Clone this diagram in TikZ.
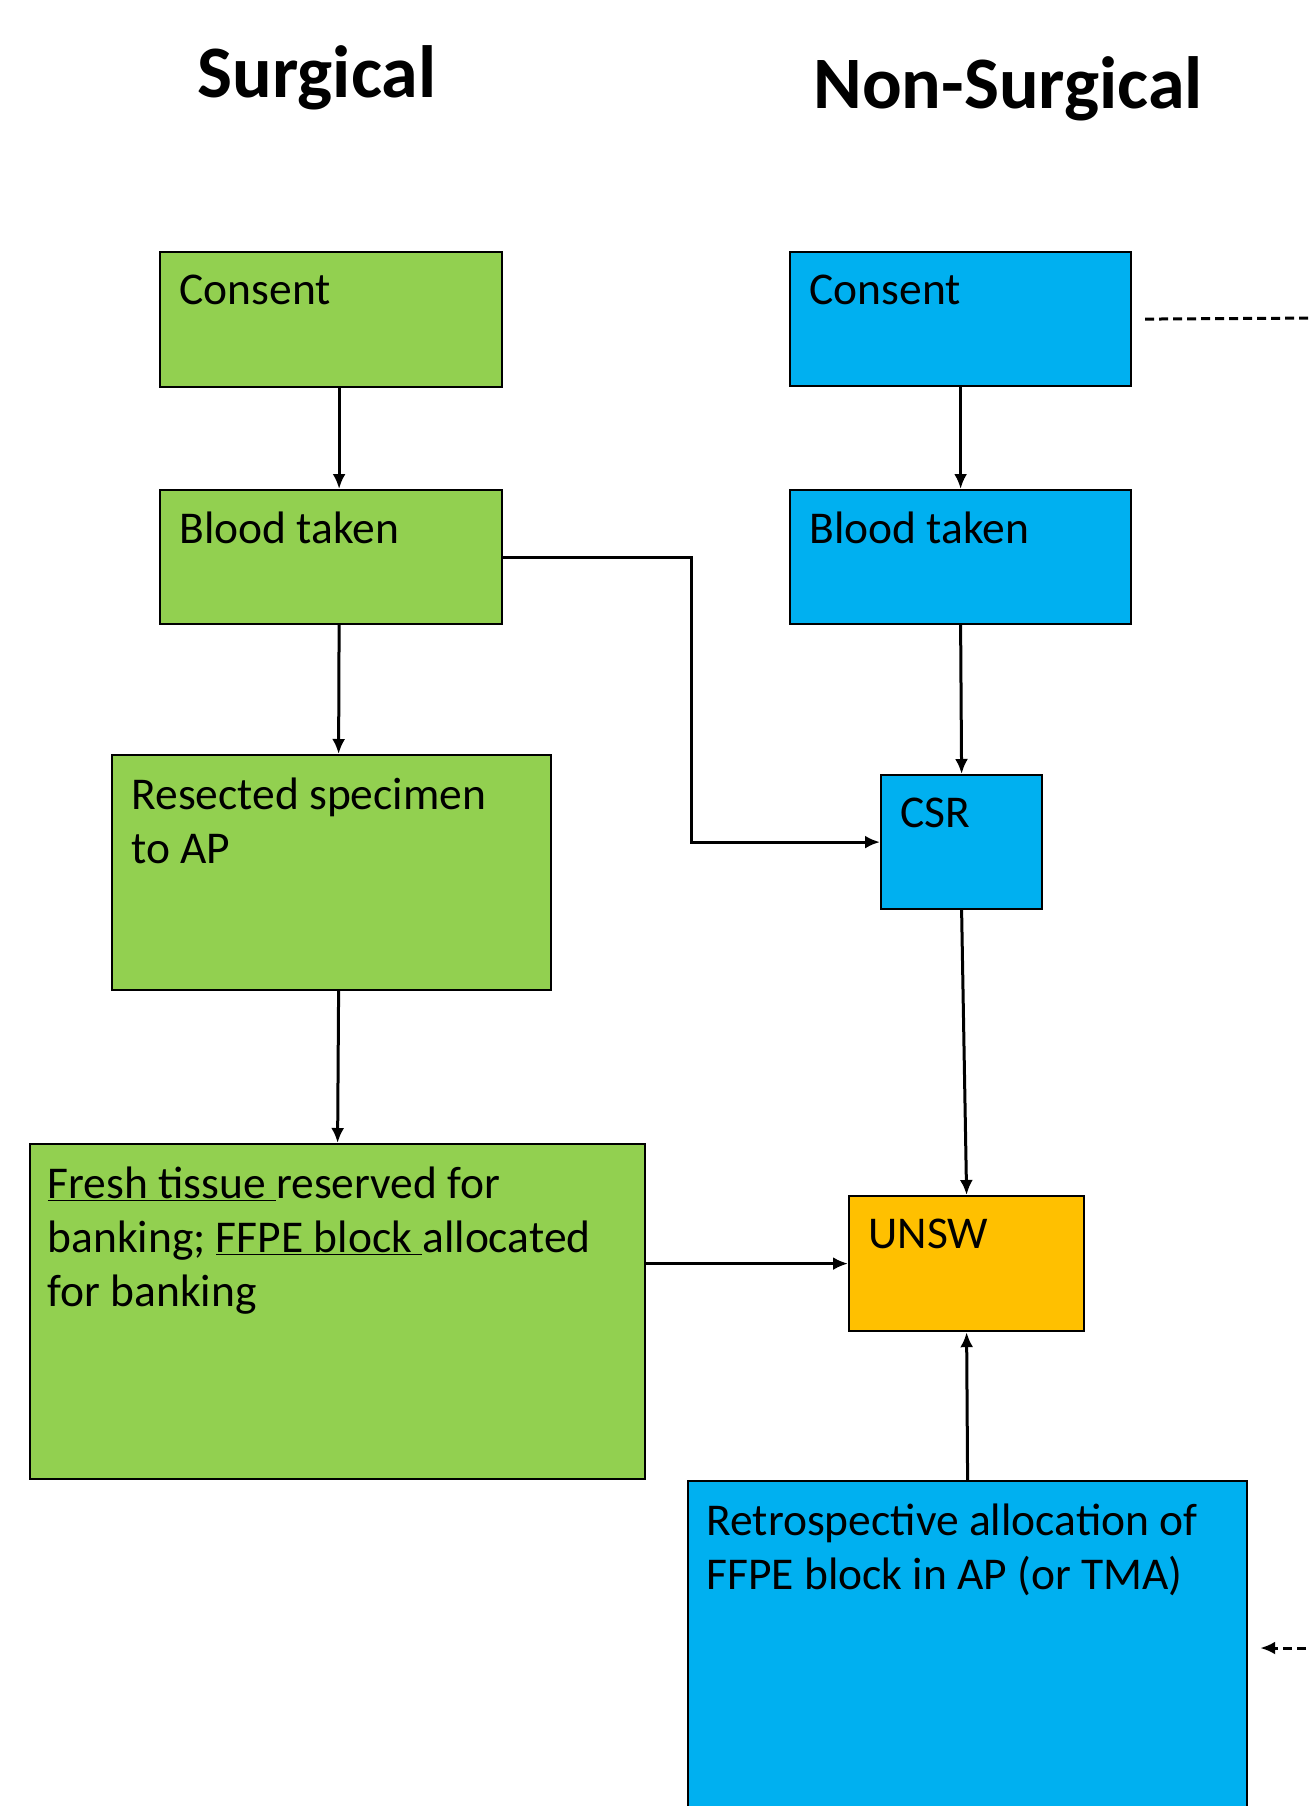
\documentclass[tikz,border=0pt]{standalone}
\usepackage{fontspec}
\setmainfont{Carlito}
\usetikzlibrary{arrows.meta,positioning,calc}
\definecolor{sgreen}{HTML}{92D050}
\definecolor{nblue}{HTML}{00B0F0}
\definecolor{ugold}{HTML}{FFC000}

\begin{document}
\begin{tikzpicture}[x=1pt,y=-1pt,>={Latex[length=15pt,width=13pt]},line width=3pt]
\tikzstyle{box}=[rectangle,draw=black,line width=2.2pt,inner sep=0pt,anchor=north west]
\tikzstyle{btxt}=[inner sep=0pt,align=left,font=\fontsize{45.5pt}{54pt}\selectfont]
\tikzstyle{ttl}=[inner sep=0pt,anchor=base,font=\fontsize{74pt}{88pt}\selectfont\bfseries]
\tikzstyle{dashx}=[line width=3pt,dash pattern=on 9pt off 5pt]

\clip (0,0) rectangle (1309,1806);

\node[ttl] (tsurg) at (317,98) {Surgical};
\node[ttl] (tnons) at (1008,109) {Non-Surgical};

% surgical column
\node[box,fill=sgreen,minimum width=342pt,minimum height=135pt] (scons) at (159,251) {};
\node[box,fill=sgreen,minimum width=342pt,minimum height=134pt] (sblood) at (159,489) {};
\node[box,fill=sgreen,minimum width=439pt,minimum height=235pt] (sres) at (111,754) {};
\node[box,fill=sgreen,minimum width=615pt,minimum height=335pt] (sfresh) at (29,1143) {};

% non-surgical column
\node[box,fill=nblue,minimum width=341pt,minimum height=134pt] (ncons) at (789,251) {};
\node[box,fill=nblue,minimum width=341pt,minimum height=134pt] (nblood) at (789,489) {};
\node[box,fill=nblue,minimum width=161pt,minimum height=134pt] (csr) at (880,774) {};
\node[box,fill=ugold,minimum width=235pt,minimum height=135pt] (unsw) at (848,1195) {};
\node[box,fill=nblue,minimum width=559pt,minimum height=420pt] (nretro) at (687,1480) {};

\node[btxt] (scons-t) [below right=22pt and 19pt of scons.north west] {Consent};
\node[btxt] (sblood-t) [below right=21pt and 19pt of sblood.north west] {Blood taken};
\node[btxt] (sres-t) [below right=22pt and 19pt of sres.north west] {Resected specimen\\to AP};
\node[btxt] (sfresh-t) [below right=22pt and 17pt of sfresh.north west]
  {\underline{Fresh tissue }reserved for\\banking; \underline{FFPE block }allocated\\for banking};
\node[btxt] (ncons-t) [below right=22pt and 19pt of ncons.north west] {Consent};
\node[btxt] (nblood-t) [below right=21pt and 19pt of nblood.north west] {Blood taken};
\node[btxt] (csr-t) [below right=22pt and 19pt of csr.north west] {CSR};
\node[btxt] (unsw-t) [below right=22pt and 19pt of unsw.north west] {UNSW};
\node[btxt] (nretro-t) [below right=22pt and 18pt of nretro.north west]
  {Retrospective allocation of\\FFPE block in AP (or TMA)};

\coordinate (offtop) at (1320,318);
\coordinate (offbot) at (1320,1648);

\draw[->] ([xshift=8pt]scons.south) -- ([xshift=8pt]sblood.north);
\draw[->] ([xshift=8pt]sblood.south) -- ([xshift=7pt]sres.north);
\draw[->] ([xshift=7pt]sres.south) -- (sfresh.north);
\draw[->] (sblood.east) -- ++(188pt,0pt) |- (csr.west);
\draw[->] (ncons.south) -- (nblood.north);
\draw[->] (nblood.south) -- (csr.north);
\draw[->] (csr.south) -- (unsw.north);
\draw[->] (sfresh.east |- unsw.west) -- (unsw.west);
\draw[->] (nretro.north) -- (unsw.south);

\draw[dashx] ([xshift=13pt]ncons.east) -- (offtop);
\draw[dashx,->] (offbot) -- ($(offbot -| nretro.east)+(12pt,0pt)$);
\end{tikzpicture}
\end{document}
